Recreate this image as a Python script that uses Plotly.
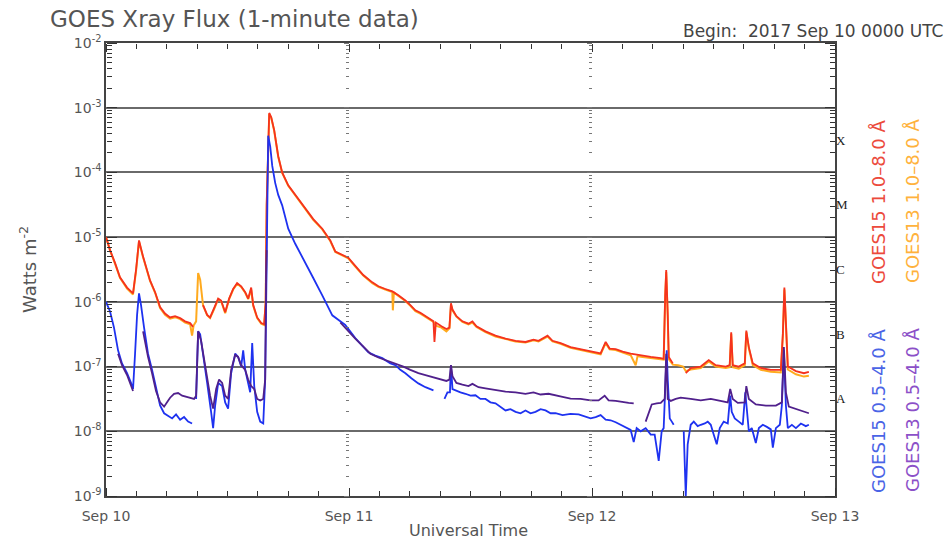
import plotly.graph_objects as go

# ---------------- data (hours since 2017-09-10 00:00 UTC, flux W m^-2) ----------------
g15_long_t = [0.00, 0.40, 0.89, 1.38, 2.08, 2.67, 2.97, 3.26, 3.66, 4.35, 4.85, 5.34, 5.83, 6.33, 6.82, 7.32,
              7.81, 8.31, 8.60, 9.00, 9.59, 9.99, 10.28, 10.68, 11.08, 11.37, 11.77, 12.16, 12.56, 12.95, 13.35,
              13.75, 14.04, 14.34, 14.54, 14.93, 15.33, 15.62, 15.77, 15.87, 16.02, 16.12, 16.32, 16.61, 17.01,
              17.40, 18.00, 18.69, 19.68, 20.47, 21.36, 22.15, 22.65, 23.34, 23.93, 24.62, 25.41, 26.30, 26.90,
              27.59, 28.28, 28.88, 29.57, 30.06, 30.56, 31.05, 31.55, 32.04, 32.34, 32.44, 32.58, 33.13, 33.62,
              33.92, 34.07, 34.22, 34.61, 35.20, 35.80, 36.19, 36.59, 37.48, 38.47, 39.46, 40.45, 41.43, 42.22,
              42.72, 43.61, 44.10, 44.90, 45.88, 46.87, 47.86, 48.85, 49.35, 49.74, 50.34, 51.03, 51.82, 52.81,
              53.80, 54.79, 55.08, 55.23, 55.33, 55.48, 55.58, 55.98, 56.50, 57.26, 57.75, 58.74, 59.53, 60.22,
              61.21, 61.60, 61.75, 61.90, 62.50, 63.09, 63.24, 63.49, 63.88, 64.67, 65.66, 66.65, 66.85, 67.00,
              67.15, 67.34, 68.14, 68.93, 69.42]
g15_long_f = [1.0e-5, 6.3e-6, 4.0e-6, 2.4e-6, 1.66e-6, 1.35e-6, 3.16e-6, 8.9e-6, 5.0e-6, 2.14e-6, 1.41e-6, 8.3e-7,
              6.6e-7, 5.75e-7, 6.0e-7, 5.6e-7, 5.0e-7, 4.7e-7, 4.1e-7, None, 8.9e-7, 6.3e-7, 5.75e-7, 7.9e-7,
              1.12e-6, 1.05e-6, 6.9e-7, 1.12e-6, 1.58e-6, 1.95e-6, 1.74e-6, 1.41e-6, 1.12e-6, 1.66e-6, 8.9e-7,
              5.75e-7, 4.7e-7, 4.5e-7, 1.0e-6, 3.16e-5, 5.0e-4, 8.3e-4, 7.1e-4, 4.5e-4, 1.78e-4, 1.0e-4, 6.3e-5,
              4.5e-5, 2.75e-5, 1.9e-5, 1.35e-5, 8.9e-6, 6.0e-6, 5.4e-6, 4.8e-6, 3.6e-6, 2.6e-6, 2.0e-6, 1.74e-6,
              1.58e-6, 1.45e-6, 1.26e-6, 1.05e-6, 8.9e-7, 7.4e-7, 6.8e-7, 6.0e-7, 5.4e-7, 5.0e-7, 2.4e-7, 4.8e-7,
              4.2e-7, 3.8e-7, 4.0e-7, 9.5e-7, 7.6e-7, 6.0e-7, 5.0e-7, 4.6e-7, 5.0e-7, 4.2e-7, 3.5e-7, 3.0e-7,
              2.7e-7, 2.5e-7, 2.4e-7, 2.6e-7, 2.5e-7, 3.0e-7, 2.5e-7, 2.3e-7, 2.0e-7, 1.86e-7, 1.7e-7, 1.6e-7,
              2.4e-7, 1.9e-7, 1.86e-7, 1.7e-7, 1.58e-7, 1.48e-7, 1.41e-7, 1.35e-7, 1.32e-7, 1.26e-6, 3.1e-6,
              6.3e-7, 1.41e-7, 1.12e-7, None, 7.9e-8, 9.5e-8, 1.0e-7, 1.26e-7, 1.05e-7, 1.0e-7, 1.05e-7, 3.4e-7,
              1.05e-7, 1.0e-7, 1.12e-7, 3.6e-7, 2.0e-7, 1.12e-7, 9.5e-8, 8.9e-8, 8.9e-8, 3.2e-7, 1.66e-6, 5.0e-7,
              1.0e-7, 8.5e-8, 7.9e-8, 8.3e-8]

g13_long_t = [0.00, 0.40, 0.89, 1.38, 2.08, 2.67, 2.97, 3.26, 3.66, 4.35, 4.85, 5.34, 5.83, 6.33, 6.82, 7.32,
              7.81, 8.31, 8.50, 8.65, 8.90, 9.00, 9.10, 9.30, 9.59, 9.99, 10.28, 10.68, 11.08, 11.37, 11.77,
              12.16, 12.56, 12.95, 13.35, 13.75, 14.04, 14.34, 14.54, 14.93, 15.33, 15.62, 15.77, 15.87, 16.02,
              16.12, 16.32, 16.61, 17.01, 17.40, 18.00, 18.69, 19.68, 20.47, 21.36, 22.15, 22.65, 23.34, 23.93,
              24.62, 25.41, 26.30, 26.90, 27.59, 28.28, 28.33, 28.43, 28.88, 29.57, 30.06, 30.56, 31.05, 31.55,
              32.04, 32.34, 32.58, 33.13, 33.62, 33.92, 34.07, 34.22, 34.61, 35.20, 35.80, 36.19, 36.59, 37.48,
              38.47, 39.46, 40.45, 41.43, 42.22, 42.72, 43.61, 44.10, 44.90, 45.88, 46.87, 47.86, 48.85, 49.35,
              49.74, 50.34, 51.03, 51.82, 52.31, 52.50, 52.81, 53.80, 54.79, 55.08, 55.23, 55.33, 55.48, 55.58,
              55.98, 56.50, 57.00, 57.26, 57.75, 58.74, 59.53, 60.22, 61.21, 61.60, 61.75, 61.90, 62.50, 63.09,
              63.24, 63.49, 63.88, 64.67, 65.66, 66.65, 66.85, 67.00, 67.15, 67.34, 68.14, 68.93, 69.42]
g13_long_f = [1.0e-5, 6.2e-6, 3.9e-6, 2.35e-6, 1.6e-6, 1.3e-6, 3.0e-6, 8.6e-6, 4.9e-6, 2.1e-6, 1.38e-6, 8.0e-7,
              6.3e-7, 5.5e-7, 5.8e-7, 5.4e-7, 4.8e-7, 4.5e-7, 3.0e-7, 4.3e-7, 5.0e-7, 1.4e-6, 2.8e-6, 2.2e-6,
              8.7e-7, 6.2e-7, 5.6e-7, 7.7e-7, 1.1e-6, 1.02e-6, 6.7e-7, 1.1e-6, 1.55e-6, 1.9e-6, 1.7e-6, 1.38e-6,
              1.1e-6, 1.55e-6, 8.7e-7, 5.6e-7, 4.6e-7, 4.4e-7, 9.5e-7, 3.0e-5, 4.8e-4, 8.0e-4, 7.0e-4, 4.4e-4,
              1.75e-4, 9.8e-5, 6.2e-5, 4.4e-5, 2.7e-5, 1.85e-5, 1.32e-5, 8.7e-6, 5.9e-6, 5.3e-6, 4.7e-6, 3.5e-6,
              2.55e-6, 1.95e-6, 1.7e-6, 1.55e-6, 1.42e-6, 7.4e-7, 1.4e-6, 1.23e-6, 1.03e-6, 8.7e-7, 7.2e-7,
              6.6e-7, 5.9e-7, 5.3e-7, 4.9e-7, 4.3e-7, 4.0e-7, 3.5e-7, 3.9e-7, 9.0e-7, 7.4e-7, 5.9e-7, 4.9e-7,
              4.5e-7, 4.8e-7, 4.1e-7, 3.4e-7, 2.9e-7, 2.65e-7, 2.45e-7, 2.35e-7, 2.55e-7, 2.45e-7, 2.9e-7,
              2.45e-7, 2.25e-7, 1.95e-7, 1.82e-7, 1.66e-7, 1.55e-7, 2.3e-7, 1.85e-7, 1.8e-7, 1.65e-7, 1.5e-7,
              1.05e-7, 1.45e-7, 1.42e-7, 1.35e-7, 1.3e-7, 1.28e-7, 1.2e-6, 2.9e-6, 6.0e-7, 1.3e-7, 1.07e-7,
              1.05e-7, 1.0e-7, 8.5e-8, 9.0e-8, 9.5e-8, 1.2e-7, 1.0e-7, 9.5e-8, 9.8e-8, 3.2e-7, 9.8e-8, 9.3e-8,
              1.05e-7, 3.4e-7, 1.9e-7, 1.05e-7, 8.9e-8, 8.3e-8, 8.1e-8, 3.0e-7, 1.55e-6, 4.7e-7, 9.0e-8, 7.6e-8,
              7.0e-8, 7.2e-8]

g15_short_t = [0.00, 0.40, 0.79, 1.19, 1.58, 2.08, 2.47, 2.67, 2.87, 3.07, 3.26, 3.46, 3.76, 4.15, 4.55, 4.94,
               5.34, 5.74, 6.13, 6.53, 6.92, 7.32, 7.71, 8.11, 8.50, 8.70, 8.90, 9.10, 9.30, 9.59, 9.99, 10.38,
               10.58, 10.78, 11.08, 11.47, 11.77, 12.06, 12.36, 12.76, 13.05, 13.35, 13.55, 13.75, 14.04, 14.24,
               14.44, 14.64, 14.93, 15.23, 15.53, 15.72, 15.82, 15.92, 16.02, 16.22, 16.42, 16.71, 17.01, 17.40,
               18.00, 18.69, 19.68, 20.47, 21.36, 22.35, 23.14, 23.63, 24.62, 25.32, 25.91, 26.60, 27.29, 28.09,
               28.58, 29.07, 29.57, 30.16, 30.85, 31.55, 32.34, 33.00, 33.43, 33.72, 33.97, 34.07, 34.22, 34.51,
               35.01, 35.50, 36.00, 36.49, 36.98, 37.48, 37.97, 38.47, 38.96, 39.46, 39.95, 40.45, 40.94, 41.43,
               41.93, 42.42, 42.92, 43.41, 43.91, 44.40, 45.09, 45.88, 46.68, 47.37, 47.86, 48.36, 48.85, 49.35,
               49.84, 50.34, 50.83, 51.32, 51.82, 52.12, 52.41, 52.81, 53.30, 53.80, 54.19, 54.59, 54.88, 55.08,
               55.28, 55.38, 55.48, 55.68, 55.88, 56.07, 56.50, 57.06, 57.26, 57.45, 57.75, 58.05, 58.44, 58.74,
               59.14, 59.43, 59.73, 60.02, 60.32, 60.62, 61.01, 61.41, 61.65, 61.80, 62.10, 62.50, 62.89, 63.14,
               63.29, 63.49, 63.78, 64.18, 64.48, 64.87, 65.27, 65.66, 65.86, 66.16, 66.55, 66.75, 66.95, 67.15,
               67.34, 67.74, 68.14, 68.63, 69.12, 69.42]
g15_short_f = [1.0e-6, 7.1e-7, 4.0e-7, 1.78e-7, 1.12e-7, 7.9e-8, 5.6e-8, 4.5e-8, 1.58e-7, 6.3e-7, 1.35e-6, 8.9e-7,
               4.0e-7, 1.58e-7, 8.9e-8, 4.5e-8, 2.5e-8, 1.9e-8, 1.74e-8, 1.58e-8, 1.82e-8, 1.51e-8, 1.66e-8,
               1.41e-8, 1.32e-8, None, 3.16e-8, 3.5e-7, 3.16e-7, 1.58e-7, 5.6e-8, 2.0e-8, 1.12e-8, 2.5e-8, 5.6e-8,
               5.0e-8, 2.8e-8, 2.24e-8, 7.9e-8, 1.58e-7, 1.41e-7, 1.0e-7, 1.78e-7, 8.9e-8, 5.6e-8, 4.0e-8, 2.3e-7,
               5.0e-8, 2.0e-8, 1.41e-8, 1.32e-8, 6.3e-8, 1.0e-6, 3.16e-5, 3.7e-4, 2.5e-4, 1.26e-4, 6.9e-5, 4.5e-5,
               3.1e-5, 1.35e-5, 7.9e-6, 4.1e-6, 2.34e-6, 1.26e-6, 6.2e-7, 5.0e-7, 4.4e-7, 2.75e-7, 2.1e-7, 1.66e-7,
               1.48e-7, 1.35e-7, 1.12e-7, 1.05e-7, 8.9e-8, 7.9e-8, 6.6e-8, 5.5e-8, 4.8e-8, 4.3e-8, None, 3.16e-8,
               4.0e-8, 4.0e-8, 1.05e-7, 4.5e-8, 4.3e-8, 4.0e-8, 3.8e-8, 3.55e-8, 3.6e-8, 3.16e-8, 3.16e-8, 2.8e-8,
               2.7e-8, 2.4e-8, 2.1e-8, 2.2e-8, 2.0e-8, 1.9e-8, 2.1e-8, 1.9e-8, 2.0e-8, 2.2e-8, 2.1e-8, 1.9e-8,
               1.9e-8, 1.78e-8, 1.86e-8, 1.82e-8, 1.66e-8, 1.58e-8, 1.66e-8, 1.78e-8, 1.51e-8, 1.48e-8, 1.38e-8,
               1.26e-8, 1.15e-8, 1.05e-8, 6.8e-9, 1.12e-8, 1.0e-8, 1.12e-8, 8.9e-9, 8.9e-9, 3.5e-9, 1.0e-8,
               1.12e-8, 1.0e-7, 1.78e-7, 6.3e-8, 1.58e-8, 1.41e-8, 1.26e-8, None, 1.0e-8, 1.0e-9, 6.3e-9, 1.26e-8,
               1.41e-8, 1.2e-8, 1.26e-8, 1.32e-8, 1.41e-8, 1.26e-8, 8.9e-9, 6.3e-9, 1.12e-8, 1.41e-8, 1.32e-8,
               3.55e-8, 2.0e-8, 1.58e-8, 1.41e-8, 1.26e-8, 4.0e-8, 2.0e-8, 1.0e-8, 1.12e-8, 6.6e-9, 1.12e-8,
               1.26e-8, 1.17e-8, 1.07e-8, 5.6e-9, 1.12e-8, 1.26e-8, 2.5e-8, 1.78e-7, 2.5e-8, 1.12e-8, 1.26e-8,
               1.12e-8, 1.32e-8, 1.2e-8, 1.26e-8]

g13_short_t = [1.19, 1.58, 2.08, 2.47, 2.67, 3.00, 3.66, 4.15, 4.55, 4.94, 5.34, 5.74, 6.03, 6.33, 6.72, 7.12,
               7.52, 7.91, 8.31, 8.70, 8.90, 9.00, 9.10, 9.39, 9.69, 9.99, 10.28, 10.58, 10.88, 11.17, 11.47,
               11.77, 12.06, 12.36, 12.76, 13.05, 13.35, 13.75, 14.04, 14.34, 14.64, 14.93, 15.23, 15.53, 15.72,
               15.82, 15.87, 16.50, 23.14, 23.93, 24.62, 25.32, 26.11, 26.90, 27.59, 28.28, 28.78, 29.37, 30.06,
               30.85, 31.55, 32.24, 33.03, 33.62, 33.92, 34.07, 34.22, 34.61, 35.20, 35.80, 36.19, 36.79, 37.48,
               38.47, 39.46, 40.45, 41.43, 42.22, 42.92, 43.71, 44.40, 45.09, 45.88, 46.87, 47.86, 48.65, 49.25,
               49.64, 50.34, 51.03, 51.62, 52.12, 52.60, 53.30, 53.60, 53.90, 54.39, 54.79, 55.18, 55.33, 55.48,
               55.78, 56.27, 56.76, 57.75, 58.74, 59.73, 60.72, 61.41, 61.65, 61.90, 62.40, 63.09, 63.24, 63.49,
               64.18, 65.17, 66.16, 66.75, 66.95, 67.15, 67.44, 68.14, 68.63, 69.42]
g13_short_f = [1.58e-7, 1.05e-7, 7.4e-8, 5.25e-8, 4.2e-8, None, 3.5e-7, 1.41e-7, 7.9e-8, 4.2e-8, 2.8e-8, 2.4e-8,
               2.8e-8, 3.3e-8, 3.8e-8, 3.9e-8, 3.55e-8, 3.4e-8, 3.3e-8, 3.16e-8, 3.55e-8, 1.58e-7, 3.5e-7, 2.5e-7,
               1.26e-7, 7.1e-8, 3.55e-8, 2.24e-8, 4.5e-8, 6.3e-8, 5.6e-8, 3.55e-8, 3.16e-8, 8.9e-8, 1.51e-7,
               1.41e-7, 1.05e-7, 8.9e-8, 6.3e-8, 5.0e-8, 4.5e-8, 3.16e-8, 3.0e-8, 3.16e-8, 6.3e-8, 2.5e-6, 6.3e-6,
               None, 4.8e-7, 3.5e-7, 2.7e-7, 2.1e-7, 1.58e-7, 1.38e-7, 1.26e-7, 1.17e-7, 1.1e-7, 1.0e-7, 8.9e-8,
               7.9e-8, 7.4e-8, 6.9e-8, 6.3e-8, 6.0e-8, 6.3e-8, 1.05e-7, 7.1e-8, 5.6e-8, 5.25e-8, 5.0e-8, 5.4e-8,
               4.8e-8, 4.6e-8, 4.3e-8, 4.1e-8, 4.0e-8, 3.8e-8, 4.0e-8, 3.7e-8, 3.8e-8, 3.55e-8, 3.4e-8, 3.2e-8,
               3.16e-8, 3.0e-8, 3.0e-8, 3.55e-8, 3.0e-8, 2.95e-8, 2.8e-8, 2.75e-8, 2.7e-8, None, 1.41e-8, 2.0e-8,
               2.6e-8, 2.7e-8, 2.75e-8, 3.16e-8, 1.58e-7, 3.16e-8, 2.95e-8, 3.16e-8, 3.3e-8, 3.16e-8, 3.0e-8,
               3.16e-8, 2.95e-8, 2.8e-8, 4.5e-8, 3.16e-8, 2.75e-8, 2.8e-8, 5.0e-8, 3.16e-8, 2.6e-8, 2.5e-8, 2.5e-8,
               2.8e-8, 2.0e-7, 4.0e-8, 2.4e-8, 2.2e-8, 2.1e-8, 1.9e-8]

day_ticks = [0, 24, 48, 72]
day_labels = ["Sep 10", "Sep 11", "Sep 12", "Sep 13"]
decade_vals = [1e-9, 1e-8, 1e-7, 1e-6, 1e-5, 1e-4, 1e-3, 1e-2]
decade_labels = ["10<sup>-9</sup>", "10<sup>-8</sup>", "10<sup>-7</sup>", "10<sup>-6</sup>",
                 "10<sup>-5</sup>", "10<sup>-4</sup>", "10<sup>-3</sup>", "10<sup>-2</sup>"]
class_vals = [10 ** -7.5, 10 ** -6.5, 10 ** -5.5, 10 ** -4.5, 10 ** -3.5]
class_labels = ["A", "B", "C", "M", "X"]

C_G15L = "#f5321e"
C_G13L = "#ffaa1e"
C_G15S = "#1e32f0"
C_G13S = "#50208c"

FONT = "DejaVu Sans"
GRAY = "#555555"
TICK = "#333333"

fig = go.Figure()
fig.add_trace(go.Scatter(x=g13_long_t, y=g13_long_f, mode="lines", line=dict(color=C_G13L, width=2),
                         name="GOES13 1.0-8.0 A", showlegend=False))
fig.add_trace(go.Scatter(x=g15_long_t, y=g15_long_f, mode="lines", line=dict(color=C_G15L, width=1.8),
                         name="GOES15 1.0-8.0 A", showlegend=False))
fig.add_trace(go.Scatter(x=g15_short_t, y=g15_short_f, mode="lines", line=dict(color=C_G15S, width=1.8),
                         name="GOES15 0.5-4.0 A", showlegend=False))
fig.add_trace(go.Scatter(x=g13_short_t, y=g13_short_f, mode="lines", line=dict(color=C_G13S, width=1.8),
                         name="GOES13 0.5-4.0 A", showlegend=False))
# invisible helpers so the extra tick axes are drawn
for ya in ("y2", "y3", "y4", "y5", "y6"):
    fig.add_trace(go.Scatter(x=[None], y=[None], yaxis=ya, showlegend=False, hoverinfo="skip"))
for xa in ("x2", "x3"):
    fig.add_trace(go.Scatter(x=[None], y=[None], xaxis=xa, showlegend=False, hoverinfo="skip"))

yrange = [-9, -2]
xrange_ = [0, 72]


def tick_yaxis(position, side, major_len, minor_len, color):
    return dict(type="log", range=yrange, automargin=False, zeroline=False, showgrid=False,
                overlaying="y", anchor="free", position=position, side=side, showticklabels=False,
                tickvals=decade_vals, ticks="outside", ticklen=major_len, tickcolor=color, showline=False,
                minor=dict(dtick="D1", ticks="outside", ticklen=minor_len, tickcolor=color))


def tick_xaxis(position, side):
    return dict(range=xrange_, automargin=False, zeroline=False, showgrid=False, overlaying="x",
                anchor="free", position=position, side=side, showticklabels=False, tickvals=day_ticks,
                ticks="outside", ticklen=8, tickcolor=TICK, showline=False,
                minor=dict(dtick=3, ticks="outside", ticklen=5, tickcolor=TICK))


fig.update_layout(
    width=952, height=540,
    margin=dict(l=106, r=117, t=43, b=44, autoexpand=False),
    paper_bgcolor="white", plot_bgcolor="white",
    font=dict(family=FONT, color=GRAY),
    xaxis=dict(range=xrange_, tickvals=day_ticks, ticktext=day_labels, ticks="",
               showgrid=False, zeroline=False, showline=True, linecolor="#444",
               linewidth=1.5, mirror=True, tickfont=dict(size=14, color=GRAY), automargin=False,
               ticklabelstandoff=6),
    yaxis=dict(type="log", range=yrange, automargin=False, zeroline=False,
               tickvals=decade_vals, ticktext=decade_labels, ticks="",
               showgrid=True, gridcolor="#6a6a6a", gridwidth=2, showline=True,
               linecolor="#444", linewidth=1.5, mirror=True, tickfont=dict(size=14, color=GRAY)),
    yaxis2=dict(type="log", range=yrange, automargin=False, zeroline=False, showgrid=False,
                overlaying="y", side="right", tickvals=class_vals, ticktext=class_labels,
                ticks="", showline=False,
                tickfont=dict(size=13, color="#222", family="Liberation Serif")),
    yaxis3=tick_yaxis(1 / 3, "left", 5, 3, "#777"),
    yaxis4=tick_yaxis(2 / 3, "left", 5, 3, "#777"),
    yaxis5=tick_yaxis(0.0, "right", 10, 5, TICK),
    yaxis6=tick_yaxis(1.0, "left", 10, 5, TICK),
    xaxis2=tick_xaxis(0.0, "top"),
    xaxis3=tick_xaxis(1.0, "bottom"),
)

ann = [
    dict(text="GOES Xray Flux (1-minute data)", x=48, y=19, xanchor="left", yanchor="middle",
         font=dict(size=23, color=GRAY)),
    dict(text="Begin:  2017 Sep 10 0000 UTC", x=945, y=31, xanchor="right", yanchor="middle",
         font=dict(size=17, color="#444")),
    dict(text="Watts m<sup>-2</sup>", x=28, y=270, textangle=-90, xanchor="center", yanchor="middle",
         font=dict(size=18, color=GRAY)),
    dict(text="Universal Time", x=468, y=530, xanchor="center", yanchor="middle",
         font=dict(size=16, color=GRAY)),
    dict(text="GOES15 1.0–8.0 Å", x=878, y=201, textangle=-90, font=dict(size=18, color="#ec4a3c")),
    dict(text="GOES13 1.0–8.0 Å", x=912, y=201, textangle=-90, font=dict(size=18, color="#ffb23c")),
    dict(text="GOES15 0.5–4.0 Å", x=878, y=410, textangle=-90, font=dict(size=18, color="#4a64e6")),
    dict(text="GOES13 0.5–4.0 Å", x=912, y=410, textangle=-90, font=dict(size=18, color="#8c50c8")),
]
for a in ann:
    px, py = a.pop("x"), a.pop("y")
    fig.add_annotation(xref="paper", yref="paper", x=(px - 106) / (952 - 106 - 117),
                       y=1 - (py - 43) / (540 - 43 - 44), showarrow=False,
                       xanchor=a.pop("xanchor", "center"), yanchor=a.pop("yanchor", "middle"), **a)

fig.write_html("out.html", config={"displayModeBar": False},
               post_script="document.body.style.margin='0px';document.body.style.overflow='hidden';")
